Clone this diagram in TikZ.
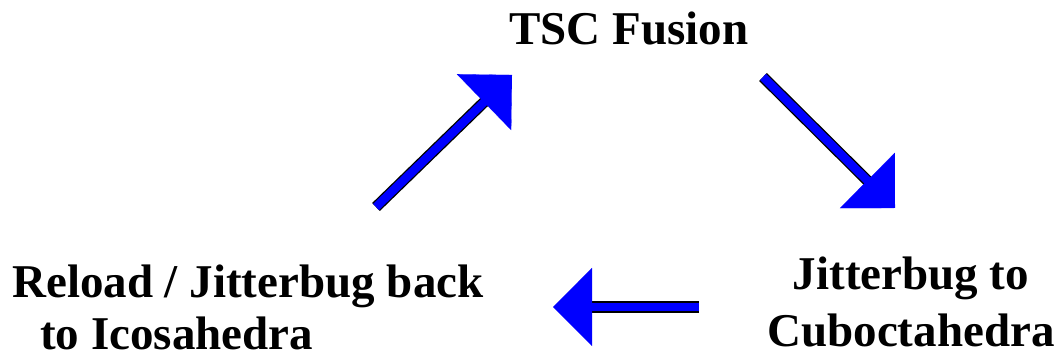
\documentclass[tikz,border=0pt]{standalone}
\usepackage{fontspec}
\setmainfont{Liberation Serif}
\usetikzlibrary{arrows.meta,calc}
\tikzset{
  stagetext/.style={font=\bfseries\fontsize{47}{52}\selectfont, inner sep=0pt},
  shaft/.style={draw=black, line width=1.3pt, double=blue, double distance=8.5pt},
  head/.style={blue, line width=0.1pt, -{Triangle[length=39pt, width=78pt]}}
}
\begin{document}
\begin{tikzpicture}[x=1pt, y=1pt]
      \useasboundingbox (0,0) rectangle (1062,358);
      \draw
        (629,313) node[stagetext, anchor=base] (fusion){TSC Fusion}
        (911,11) node[stagetext, anchor=base, align=center] (cubo){Jitterbug to\\[5pt]Cuboctahedra}
        (12,8) node[stagetext, anchor=base west, align=left] (icosa){Reload / Jitterbug back\\\hspace*{28pt}to Icosahedra};
      \coordinate (a1) at (376,151);
      \coordinate (b1) at (512,283);
      \coordinate (a2) at (763,281);
      \coordinate (b2) at (895,150);
      \coordinate (a3) at (699,51);
      \coordinate (b3) at (553,51);
      \begin{scope}
        \draw[shaft] (a1) -- ($(b1)!30pt!(a1)$);
        \draw[head] (a1) -- (b1);
        \draw[shaft] (a2) -- ($(b2)!30pt!(a2)$);
        \draw[head] (a2) -- (b2);
        \draw[shaft] (a3) -- ($(b3)!30pt!(a3)$);
        \draw[head] (a3) -- (b3);
      \end{scope}
    \end{tikzpicture}
\end{document}
